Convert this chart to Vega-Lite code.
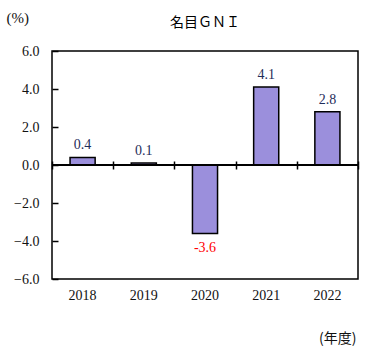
{
  "$schema": "https://vega.github.io/schema/vega-lite/v6.json",
  "width": 306,
  "height": 228,
  "autosize": {"type": "none"},
  "padding": {"left": 52, "top": 51, "right": 8, "bottom": 74},
  "background": "white",
  "title": {"text": "名目ＧＮＩ", "font": "Noto Sans CJK JP", "fontSize": 14, "fontWeight": "normal", "color": "#000000", "offset": 0, "dy": 20, "anchor": "middle"},
  "config": {
    "view": {"stroke": "#000000", "strokeWidth": 1.5},
    "axis": {"labelFont": "Liberation Serif", "labelFontSize": 14, "labelColor": "#111111", "titleFont": "Noto Sans CJK JP", "titleFontWeight": "normal", "titleColor": "#111111", "titleFontSize": 14}
  },
  "data": {"values": [
    {"year": "2018", "value": 0.4, "label": "0.4"},
    {"year": "2019", "value": 0.1, "label": "0.1"},
    {"year": "2020", "value": -3.6, "label": "-3.6"},
    {"year": "2021", "value": 4.1, "label": "4.1"},
    {"year": "2022", "value": 2.8, "label": "2.8"}
  ]},
  "resolve": {"axis": {"x": "independent", "y": "independent"}, "scale": {"x": "independent"}},
  "layer": [
    {
      "mark": {"type": "bar", "fill": "#9b8fdc", "stroke": "#000000", "strokeWidth": 1.5},
      "encoding": {
        "x": {"field": "year", "type": "nominal", "sort": null,
              "scale": {"paddingInner": 0.59, "paddingOuter": 0.295},
              "axis": {"orient": "bottom", "title": "(年度)", "titleAnchor": "end", "titleAlign": "right", "titleX": 304, "titleY": 52, "labelAngle": 0, "ticks": false, "domain": false, "labelPadding": 9}},
        "y": {"field": "value", "type": "quantitative",
              "scale": {"domain": [-6, 6], "nice": false, "zero": false},
              "axis": {"values": [-6, -4, -2, 0, 2, 4, 6], "format": ".1f", "grid": false, "domain": false, "tickColor": "#000000", "tickSize": -6, "tickWidth": 1.5, "labelPadding": 19, "title": "(%)", "titleFont": "Liberation Serif", "titleFontSize": 15, "titleAngle": 0, "titleAlign": "left", "titleBaseline": "middle", "titleX": -46, "titleY": -34}}
      }
    },
    {
      "mark": {"type": "rule", "color": "#000000", "strokeWidth": 1.5},
      "encoding": {
        "y": {"datum": 0, "type": "quantitative", "scale": {"domain": [-6, 6], "nice": false, "zero": false}, "axis": null}
      }
    },
    {
      "transform": [{"filter": "datum.value >= 0"}],
      "mark": {"type": "text", "font": "Liberation Serif", "fontSize": 14, "baseline": "bottom", "dy": -5, "color": "#1f2d5a"},
      "encoding": {
        "x": {"field": "year", "type": "nominal", "sort": null,
              "scale": {"domain": ["2018", "2019", "2020", "2021", "2022"], "paddingInner": 0, "paddingOuter": 0},
              "axis": {"orient": "top", "offset": -114, "tickBand": "extent", "labels": false, "domain": false, "title": null, "tickSize": 4, "tickColor": "#000000", "tickWidth": 1.5}},
        "y": {"field": "value", "type": "quantitative", "scale": {"domain": [-6, 6], "nice": false, "zero": false}, "axis": null},
        "text": {"field": "label"}
      }
    },
    {
      "transform": [{"filter": "datum.value < 0"}],
      "mark": {"type": "text", "font": "Liberation Serif", "fontSize": 14, "baseline": "top", "dy": 8, "color": "#ff0000"},
      "encoding": {
        "x": {"field": "year", "type": "nominal", "sort": null,
              "scale": {"domain": ["2018", "2019", "2020", "2021", "2022"], "paddingInner": 0, "paddingOuter": 0},
              "axis": {"orient": "bottom", "offset": -114, "tickBand": "extent", "labels": false, "domain": false, "title": null, "tickSize": 4, "tickColor": "#000000", "tickWidth": 1.5}},
        "y": {"field": "value", "type": "quantitative", "scale": {"domain": [-6, 6], "nice": false, "zero": false}, "axis": null},
        "text": {"field": "label"}
      }
    }
  ]
}
